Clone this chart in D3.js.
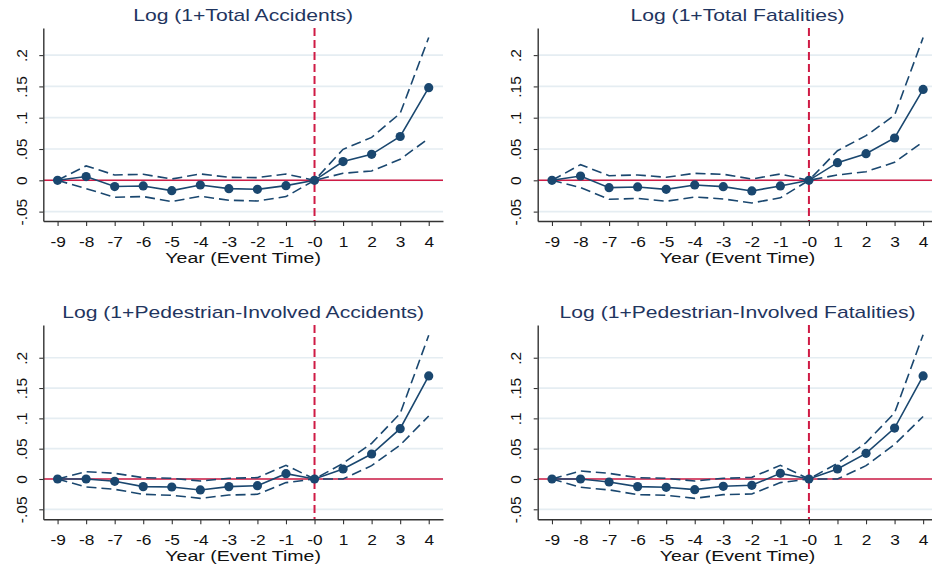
<!DOCTYPE html>
<html>
<head>
<meta charset="utf-8">
<script src="https://cdn.jsdelivr.net/npm/d3@7"></script>
<style>
  body { margin: 0; background: #fff; }
  svg { display: block; }
  text { font-family: "Liberation Sans", Arial, Helvetica, sans-serif; }
</style>
</head>
<body>
<svg id="chart" width="932" height="567"></svg>
<script>
// Event-study estimates: coefficient with upper / lower confidence bounds per event year
const eventYears   = [-9, -8, -7, -6, -5, -4, -3, -2, -1, 0, 1, 2, 3, 4];
const xTickLabels  = ["-9", "-8", "-7", "-6", "-5", "-4", "-3", "-2", "-1", "-0", "1", "2", "3", "4"];
const yTickValues  = [-0.05, 0, 0.05, 0.1, 0.15, 0.2];
const yTickLabels  = ["-.05", "0", ".05", ".1", ".15", ".2"];
const xAxisTitle   = "Year (Event Time)";

const panelTitles = [
  "Log (1+Total Accidents)",
  "Log (1+Total Fatalities)",
  "Log (1+Pedestrian-Involved Accidents)",
  "Log (1+Pedestrian-Involved Fatalities)"
];

const totalAccidentsCoef  = [0, 0.006, -0.010, -0.009, -0.0165, -0.0075, -0.0133, -0.0144, -0.0085, 0, 0.030, 0.0415, 0.070, 0.148];
const totalAccidentsUpper = [0, 0.023, 0.0085, 0.0096, 0.0021, 0.0101, 0.0048, 0.0043, 0.0101, 0, 0.0495, 0.0686, 0.107, 0.228];
const totalAccidentsLower = [0, -0.0133, -0.0271, -0.026, -0.034, -0.0255, -0.0319, -0.033, -0.026, 0, 0.0112, 0.0149, 0.0335, 0.067];

const totalFatalitiesCoef  = [0, 0.0069, -0.0117, -0.0106, -0.0144, -0.0074, -0.0101, -0.017, -0.009, 0, 0.0282, 0.0426, 0.0676, 0.1452];
const totalFatalitiesUpper = [0, 0.025, 0.0074, 0.0085, 0.0048, 0.0112, 0.0096, 0.0021, 0.0101, 0, 0.0473, 0.0713, 0.104, 0.228];
const totalFatalitiesLower = [0, -0.0117, -0.0303, -0.029, -0.0335, -0.0266, -0.0298, -0.0362, -0.028, 0, 0.0085, 0.0138, 0.0287, 0.0617];

const pedAccidentsCoef  = [0, 0, -0.0038, -0.0126, -0.0132, -0.0181, -0.0126, -0.011, 0.0088, 0, 0.0165, 0.0412, 0.083, 0.170];
const pedAccidentsUpper = [0, 0.0121, 0.0093, 0.0022, 0.0011, -0.0033, 0.0011, 0.0022, 0.0225, 0, 0.0258, 0.0588, 0.108, 0.237];
const pedAccidentsLower = [0, -0.0132, -0.017, -0.0253, -0.0269, -0.0319, -0.0264, -0.0253, -0.006, 0, 0.0, 0.022, 0.056, 0.104];

const pedFatalitiesCoef  = [0, 0, -0.005, -0.0126, -0.0137, -0.0176, -0.0121, -0.0104, 0.0093, 0, 0.0165, 0.0423, 0.084, 0.170];
const pedFatalitiesUpper = [0, 0.0132, 0.0093, 0.0022, 0.0011, -0.0033, 0.0011, 0.0027, 0.0225, 0, 0.0258, 0.060, 0.109, 0.238];
const pedFatalitiesLower = [0, -0.0137, -0.018, -0.0258, -0.0269, -0.0319, -0.0258, -0.0247, -0.006, 0, 0, 0.022, 0.057, 0.103];

const panelSeries = [
  { coef: totalAccidentsCoef,  upper: totalAccidentsUpper,  lower: totalAccidentsLower },
  { coef: totalFatalitiesCoef, upper: totalFatalitiesUpper, lower: totalFatalitiesLower },
  { coef: pedAccidentsCoef,    upper: pedAccidentsUpper,    lower: pedAccidentsLower },
  { coef: pedFatalitiesCoef,   upper: pedFatalitiesUpper,   lower: pedFatalitiesLower }
];

// Plot-region geometry for the 2x2 grid
const plotWidth = 399.7;
const layout = [
  { left: 43.3,  top: 28,  bottom: 221,   yDomain: [-0.065, 0.2433] },
  { left: 537.7, top: 28,  bottom: 221,   yDomain: [-0.065, 0.2433] },
  { left: 43.3,  top: 325, bottom: 519.3, yDomain: [-0.0665, 0.254] },
  { left: 537.7, top: 325, bottom: 519.3, yDomain: [-0.0665, 0.254] }
];

const NAVY = "#1a476f";
const RED = "#cf1b45";
const GRID = "#e5edf2";
const TITLE = "#1f3560";

const svg = d3.select("#chart");

layout.forEach((L, p) => {
  const S = panelSeries[p];
  const x = d3.scaleLinear().domain([-9.5, 4.5]).range([L.left, L.left + plotWidth]);
  const y = d3.scaleLinear().domain(L.yDomain).range([L.bottom, L.top]);
  const g = svg.append("g");

  // gridlines
  g.selectAll("line.grid").data(yTickValues).join("line")
    .attr("class", "grid")
    .attr("x1", L.left).attr("x2", L.left + plotWidth)
    .attr("y1", d => y(d)).attr("y2", d => y(d))
    .attr("stroke", GRID).attr("stroke-width", 1.7);

  // reference lines: zero effect and event date
  g.append("line")
    .attr("x1", L.left).attr("x2", L.left + plotWidth)
    .attr("y1", y(0)).attr("y2", y(0))
    .attr("stroke", RED).attr("stroke-width", 1.6);
  g.append("line")
    .attr("x1", x(0)).attr("x2", x(0))
    .attr("y1", L.top).attr("y2", L.bottom)
    .attr("stroke", RED).attr("stroke-width", 2)
    .attr("stroke-dasharray", "8,4");

  // axes
  const yAxis = d3.axisLeft(y).tickValues(yTickValues)
    .tickFormat((d, i) => yTickLabels[i]).tickSize(4).tickSizeOuter(0);
  const yg = g.append("g").attr("transform", `translate(${L.left},0)`).call(yAxis);
  yg.select(".domain").attr("stroke", "#333").attr("stroke-width", 1.4);
  yg.selectAll(".tick line").attr("stroke", "#333").attr("stroke-width", 1.1);
  yg.selectAll(".tick text")
    .attr("x", 0).attr("y", 0).attr("dy", 0)
    .attr("text-anchor", "middle")
    .attr("transform", "translate(-16.6,0) rotate(-90)")
    .attr("font-size", 15.5).attr("fill", "#111");

  const xAxis = d3.axisBottom(x).tickValues(eventYears)
    .tickFormat((d, i) => xTickLabels[i]).tickSize(5).tickSizeOuter(0);
  const xg = g.append("g").attr("transform", `translate(0,${L.bottom})`).call(xAxis);
  xg.select(".domain").attr("stroke", "#333").attr("stroke-width", 1.4);
  xg.selectAll(".tick line").attr("stroke", "#333").attr("stroke-width", 1.1);
  xg.selectAll(".tick text")
    .attr("y", 25.6).attr("dy", 0)
    .attr("transform", "scale(1.17,1)")
    .attr("font-size", 14.8).attr("fill", "#111");

  const cx = L.left + plotWidth / 2;
  g.append("text")
    .attr("transform", `translate(${cx},${L.bottom + 42}) scale(1.32,1)`)
    .attr("text-anchor", "middle").attr("font-size", 14.8).attr("fill", "#111")
    .text(xAxisTitle);

  g.append("text")
    .attr("transform", `translate(${cx},${L.top - 6.7}) scale(1.32,1)`)
    .attr("text-anchor", "middle").attr("font-size", 16).attr("fill", TITLE)
    .text(panelTitles[p]);

  // confidence bounds (dashed) and point estimates
  const line = d3.line().x((d, i) => x(eventYears[i])).y(d => y(d));
  [S.upper, S.lower].forEach(b => {
    g.append("path").attr("d", line(b))
      .attr("fill", "none").attr("stroke", NAVY).attr("stroke-width", 1.6)
      .attr("stroke-dasharray", "10,5");
  });
  g.append("path").attr("d", line(S.coef))
    .attr("fill", "none").attr("stroke", NAVY).attr("stroke-width", 1.6);
  g.selectAll("circle").data(S.coef).join("circle")
    .attr("cx", (d, i) => x(eventYears[i])).attr("cy", d => y(d))
    .attr("r", 4.6).attr("fill", NAVY);
});
</script>
</body>
</html>
